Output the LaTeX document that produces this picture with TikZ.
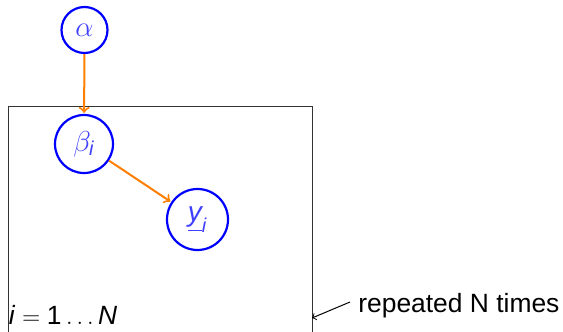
\documentclass[tikz,border=0pt]{standalone}
\usepackage{fontspec}
\setmainfont{Liberation Sans}
\usetikzlibrary{arrows}
\tikzset{
  var/.style={circle, draw=blue, line width=1.1pt, text=blue!75, inner sep=0pt,
    font=\fontsize{14}{16}\selectfont},
  dep/.style={draw=orange, line width=1pt, -to, shorten >=0.5pt},
  plate/.style={draw=black!80, line width=0.5pt},
  note/.style={font=\fontsize{13.2}{15.6}\selectfont, inner sep=0pt},
  pointer/.style={draw=black, line width=0.5pt, -to}
}
\begin{document}
\begin{tikzpicture}[x=0.5pt, y=-0.5pt]
\clip (0,0) rectangle (563,332);
\fill[white] (0,0) rectangle (563,332);
% plate
\coordinate (pnw) at (8,106);
\coordinate (pse) at (312,340);
\draw[plate] (pnw) rectangle (pse);
\coordinate (ptip) at (312,318);
% variables
\node[var, minimum size=23pt] (alpha) at (84.5,30) {$\alpha$};
\node[var, minimum size=29pt] (beta) at (84,144) {$\beta_{\mbox{\fontsize{10}{12}\selectfont\itshape i}}$};
\node[var, minimum size=30.5pt] (y) at (197.5,219.5) {$\underline{\mbox{\itshape y}}_{\mbox{\fontsize{10}{12}\selectfont\itshape i}}$};
% dependencies
\draw[dep] (alpha) -- (beta);
\draw[dep] (beta) -- (y);
% labels
\node[note, anchor=base west] (idx) at (8.5,324) {\textit{i}${}={}$1\,$\ldots$\,\textit{N}};
\node[note, anchor=base west] (rep) at (358,312) {repeated N times};
\coordinate (rstart) at (350,302);
\draw[pointer] (rstart) -- (ptip);
\end{tikzpicture}
\end{document}
